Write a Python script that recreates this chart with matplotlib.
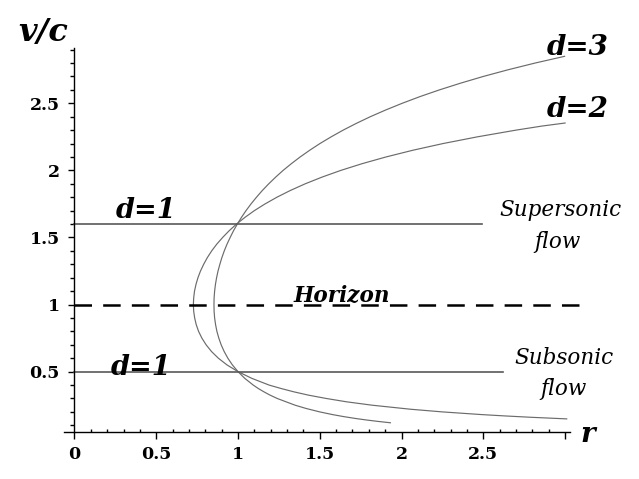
import numpy as np
import matplotlib
matplotlib.use("Agg")
import matplotlib.pyplot as plt

# ---- data ----
d2_v = [0.148, 0.16, 0.17, 0.18, 0.2, 0.22, 0.25, 0.275, 0.3, 0.325, 0.35, 0.375, 0.4, 0.45,
        0.5, 0.55, 0.6, 0.65, 0.7, 0.75, 0.8, 0.85, 0.9, 0.95, 1.0, 1.05, 1.1, 1.15, 1.2,
        1.25, 1.3, 1.35, 1.4, 1.45, 1.5, 1.55, 1.6, 1.65, 1.7, 1.75, 1.8, 1.85, 1.9, 1.95,
        2.0, 2.05, 2.1, 2.15, 2.2, 2.25, 2.3, 2.33, 2.353]
d2_r = [3.01, 2.79, 2.632, 2.49, 2.25, 2.054, 1.82, 1.665, 1.54, 1.4305, 1.34, 1.2616, 1.19,
        1.0845, 1.00, 0.9328, 0.88, 0.838, 0.805, 0.779, 0.759, 0.7446, 0.735, 0.729, 0.727,
        0.729, 0.734, 0.743, 0.755, 0.7706, 0.79, 0.8125, 0.839, 0.870, 0.906, 0.9458, 0.991,
        1.0427, 1.10, 1.1653, 1.238, 1.3196, 1.411, 1.514, 1.629, 1.759, 1.905, 2.069, 2.254,
        2.464, 2.70, 2.857, 3.0]

d3_v = [0.119, 0.13, 0.14, 0.15, 0.165, 0.18, 0.2, 0.225, 0.25, 0.3, 0.325, 0.35, 0.375, 0.4,
        0.45, 0.5, 0.55, 0.6, 0.65, 0.7, 0.75, 0.8, 0.85, 0.9, 0.95, 1.0, 1.05, 1.1, 1.15,
        1.2, 1.25, 1.3, 1.35, 1.4, 1.45, 1.5, 1.55, 1.6, 1.65, 1.7, 1.75, 1.8, 1.85, 1.9,
        1.95, 2.0, 2.05, 2.1, 2.15, 2.2, 2.25, 2.3, 2.35, 2.4, 2.45, 2.5, 2.55, 2.6, 2.65,
        2.7, 2.75, 2.8, 2.85]
d3_r = [1.932, 1.85, 1.784, 1.724, 1.646, 1.578, 1.50, 1.418, 1.349, 1.24, 1.196, 1.158,
        1.1232, 1.093, 1.0414, 1.0, 0.9658, 0.938, 0.9154, 0.897, 0.8826, 0.871, 0.8629,
        0.857, 0.8538, 0.853, 0.8538, 0.857, 0.862, 0.869, 0.8778, 0.889, 0.9014, 0.916,
        0.9327, 0.952, 0.9725, 0.996, 1.0211, 1.049, 1.0795, 1.113, 1.1487, 1.188, 1.2305,
        1.276, 1.3263, 1.38, 1.4384, 1.501, 1.5697, 1.643, 1.7231, 1.809, 1.903, 2.004, 2.113,
        2.232, 2.361, 2.50, 2.652, 2.817, 2.997]

super_v = 1.6
super_r = [0.0, 2.49]
sub_v = 0.5
sub_r = [0.0, 2.62]
horizon_v = 1.0
horizon_r = [0.0, 3.094]

x_major = [0, 0.5, 1, 1.5, 2, 2.5, 3]
x_labels = ['0', '0.5', '1', '1.5', '2', '2.5', '']
y_major = [0.5, 1, 1.5, 2, 2.5]
y_labels = ['0.5', '1', '1.5', '2', '2.5']

# ---- figure ----
fig = plt.figure(figsize=(6.39, 4.79), dpi=100)
ax = fig.add_axes([64/639, (479-432.3)/479, (570-64)/639, (432.3-48)/479])
ax.set_xlim(-0.064, 3.03)
ax.set_ylim(0.048, 2.912)

for s in ['top', 'right']:
    ax.spines[s].set_visible(False)
ax.spines['left'].set_position(('data', 0))
ax.spines['left'].set_linewidth(1.0)
ax.spines['bottom'].set_linewidth(1.0)

curve_col = '0.42'
ax.plot(d2_r, d2_v, color=curve_col, lw=0.85)
ax.plot(d3_r, d3_v, color=curve_col, lw=0.85)

ax.plot(super_r, [super_v, super_v], color='0.35', lw=1.2)
ax.plot(sub_r, [sub_v, sub_v], color='0.35', lw=1.2)
ax.plot(horizon_r, [horizon_v, horizon_v], color='black', lw=1.8,
        ls=(0, (7.0, 4.47)), clip_on=False)

ax.set_xticks(x_major)
ax.set_xticklabels(x_labels)
ax.set_xticks(np.arange(0.1, 3.0, 0.1), minor=True)
ax.set_yticks(y_major)
ax.set_yticklabels(y_labels)
ax.set_yticks(np.arange(0.1, 2.95, 0.1), minor=True)

ax.tick_params(axis='x', which='major', direction='out', length=5, width=1, pad=5)
ax.tick_params(axis='x', which='minor', direction='in', length=2, width=1)
ax.tick_params(axis='y', which='major', direction='out', length=4.5, width=1, pad=6)
ax.tick_params(axis='y', which='minor', direction='out', length=3, width=1)
for lab in ax.get_xticklabels() + ax.get_yticklabels():
    lab.set_fontfamily('DejaVu Serif')
    lab.set_fontweight('bold')
    lab.set_fontsize(12.5)

bi = dict(family='DejaVu Serif', style='italic', weight='bold')
it = dict(family='DejaVu Serif', style='italic')

fig.text(43/639, 1-33/479, 'v/c', ha='center', va='center', fontsize=23, **bi)
ax.text(0.438, 1.645, 'd=1', ha='center', va='baseline', fontsize=19.5, **bi)
ax.text(0.407, 0.475, 'd=1', ha='center', va='baseline', fontsize=19.5, **bi)
ax.text(2.886, 2.858, 'd=3', ha='left', va='baseline', fontsize=20, **bi)
ax.text(2.886, 2.397, 'd=2', ha='left', va='baseline', fontsize=20, **bi)
ax.text(1.635, 1.029, 'Horizon', ha='center', va='baseline', fontsize=15.5, **bi)
ax.text(2.97, 1.657, 'Supersonic', ha='center', va='baseline', fontsize=15.5, **it)
ax.text(2.956, 1.422, 'flow', ha='center', va='baseline', fontsize=15.5, **it)
ax.text(2.99, 0.555, 'Subsonic', ha='center', va='baseline', fontsize=15.5, **it)
ax.text(2.99, 0.329, 'flow', ha='center', va='baseline', fontsize=15.5, **it)
ax.text(3.14, -0.024, 'r', ha='center', va='baseline', fontsize=20, **bi)

fig.savefig('out.png', dpi=100)
